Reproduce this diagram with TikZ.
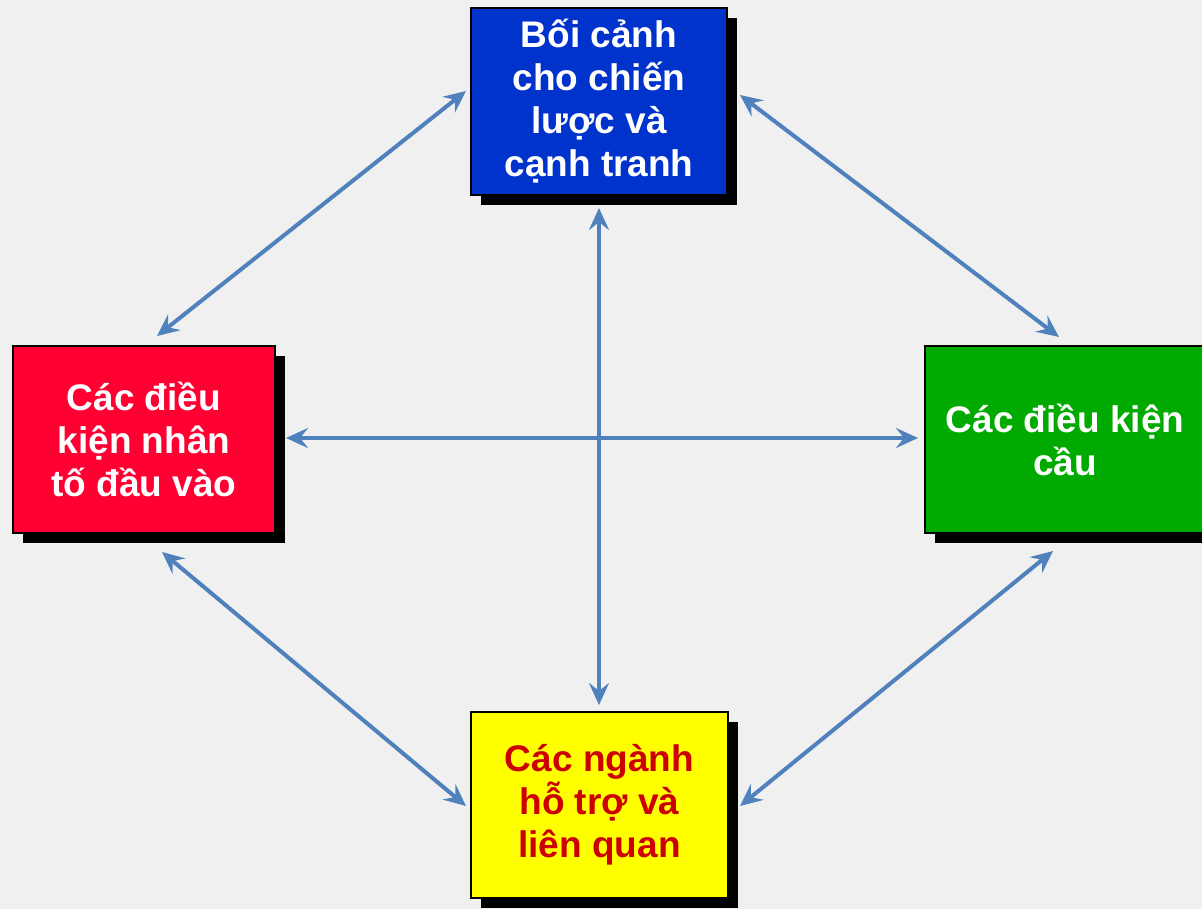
\documentclass[tikz,border=0pt]{standalone}
\usepackage{fontspec}
\setmainfont{Liberation Sans}
\usetikzlibrary{arrows.meta,shadows}
\definecolor{bgc}{HTML}{F0F0F0}
\definecolor{boxblue}{HTML}{0033CC}
\definecolor{boxred}{HTML}{FF0033}
\definecolor{boxgreen}{HTML}{00AA00}
\definecolor{boxyellow}{HTML}{FFFF00}
\definecolor{textred}{HTML}{CC0000}
\definecolor{linkblue}{HTML}{4F81BD}
\tikzset{
  factor/.style={draw=black, line width=2.5pt, rectangle, align=center,
    font=\fontsize{37}{43}\selectfont\bfseries, text=white,
    general shadow={fill=black, shadow xshift=10pt, shadow yshift=-10pt}},
  biarrow/.style={draw=linkblue, line width=4pt,
    {Stealth[length=22pt,width=20pt,inset=8pt]}-{Stealth[length=22pt,width=20pt,inset=8pt]}}
}
\begin{document}
\begin{tikzpicture}[x=1pt,y=-1pt]
  \fill[bgc] (0,0) rectangle (1202,909);
  \useasboundingbox (0,0) rectangle (1202,909);
  \clip (0,0) rectangle (1202,909);

  % the four boxes of the diamond
  \node[factor, fill=boxblue, minimum width=256pt, minimum height=187pt] (strategy) at (599,101.5)
    {Bối cảnh\\cho chiến\\lược và\\cạnh tranh};
  \node[factor, fill=boxred, minimum width=262pt, minimum height=187pt] (factors) at (144,439.5)
    {Các điều\\kiện nhân\\tố đầu vào};
  \node[factor, fill=boxgreen, minimum width=280pt, minimum height=187pt] (demand) at (1065,439.5)
    {Các điều kiện\\cầu};
  \node[factor, fill=boxyellow, text=textred, minimum width=257pt, minimum height=186pt] (related) at (599.5,805)
    {Các ngành\\hỗ trợ và\\liên quan};

  % connector end points
  \coordinate (v1) at (599,208);
  \coordinate (v2) at (599,705);
  \coordinate (h1) at (286,438);
  \coordinate (h2) at (918,438);
  \coordinate (tl1) at (466,91);
  \coordinate (tl2) at (157,336);
  \coordinate (tr1) at (740,95);
  \coordinate (tr2) at (1059,337);
  \coordinate (bl1) at (162,552);
  \coordinate (bl2) at (466,806);
  \coordinate (br1) at (1053,551);
  \coordinate (br2) at (740,806);

  % two-way links
  \draw[biarrow] (v1) -- (v2);
  \draw[biarrow] (h1) -- (h2);
  \draw[biarrow] (tl1) -- (tl2);
  \draw[biarrow] (tr1) -- (tr2);
  \draw[biarrow] (bl1) -- (bl2);
  \draw[biarrow] (br1) -- (br2);
\end{tikzpicture}
\end{document}
